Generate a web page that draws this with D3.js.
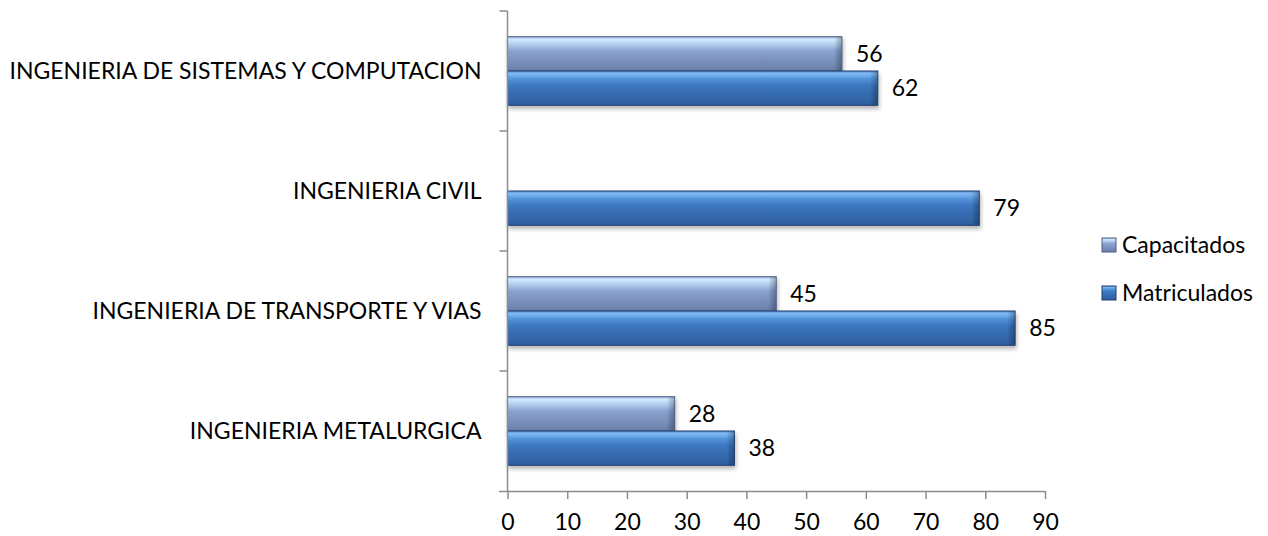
<!DOCTYPE html>
<html>
<head>
<meta charset="utf-8">
<script src="https://cdn.jsdelivr.net/npm/d3@7"></script>
<style>
  body { margin: 0; background: #fff; }
  text { font-family: Lato, "Open Sans", sans-serif; fill: #000; }
  .axis line, .axis path { stroke: #8c8c8c; stroke-width: 1.5px; }
</style>
</head>
<body>
<script>
// data
var categories = ["INGENIERIA DE SISTEMAS Y COMPUTACION", "INGENIERIA CIVIL", "INGENIERIA DE TRANSPORTE Y VIAS", "INGENIERIA METALURGICA"];
var series = ["Capacitados", "Matriculados"];
var capacitados = [56, null, 45, 28];
var matriculados = [62, 79, 85, 38];
var xTicks = [0, 10, 20, 30, 40, 50, 60, 70, 80, 90];

var margin = { top: 11, bottom: 45, left: 507.5, right: 223 };
var width = 1268 - margin.left - margin.right;
var height = 536 - margin.top - margin.bottom;
var fontSize = "23px";

var svg = d3.select("body")
    .append("svg")
    .attr("width", 1268)
    .attr("height", 536);

var defs = svg.append("defs");

// bar gradients (rough take on the excel bevel look)
function vgrad(id, stops) {
    var g = defs.append("linearGradient")
        .attr("id", id)
        .attr("x1", 0).attr("y1", 0).attr("x2", 0).attr("y2", 1);
    stops.forEach(function (s) {
        g.append("stop").attr("offset", s[0]).attr("stop-color", s[1]);
    });
}
vgrad("g-cap", [["0%", "#9db8e0"], ["8%", "#d3ebfd"], ["22%", "#b3cfee"], ["42%", "#89a2cf"], ["100%", "#6a7ea8"]]);
vgrad("g-mat", [["0%", "#5a92d6"], ["8%", "#80bbf3"], ["22%", "#5596dc"], ["42%", "#3d76c0"], ["100%", "#2d5e9c"]]);

var endGrad = defs.append("linearGradient")
    .attr("id", "g-end")
    .attr("x1", 0).attr("y1", 0).attr("x2", 1).attr("y2", 0);
endGrad.append("stop").attr("offset", "0%").attr("stop-color", "#000").attr("stop-opacity", 0);
endGrad.append("stop").attr("offset", "100%").attr("stop-color", "#000").attr("stop-opacity", 0.28);

var shadow = defs.append("filter").attr("id", "shadow")
    .attr("x", "-5%").attr("y", "-20%").attr("width", "110%").attr("height", "160%");
shadow.append("feDropShadow")
    .attr("dx", 1).attr("dy", 3).attr("stdDeviation", 2)
    .attr("flood-color", "#000").attr("flood-opacity", 0.3);

var colors = { "Capacitados": "url(#g-cap)", "Matriculados": "url(#g-mat)" };
var borders = { "Capacitados": "#4a5c82", "Matriculados": "#213f6e" };

var chart = svg.append("g")
    .attr("transform", "translate(" + margin.left + "," + margin.top + ")");

var xScale = d3.scaleLinear()
    .domain([0, 90])
    .range([0, width]);

var yScale = d3.scaleBand()
    .domain(categories)
    .range([0, height]);

var ySub = d3.scaleBand()
    .domain(series)
    .range([0, yScale.bandwidth()])
    .paddingOuter(0.75);

var rows = [];
categories.forEach(function (c, i) {
    rows.push({ cat: c, key: "Capacitados", value: capacitados[i] });
    rows.push({ cat: c, key: "Matriculados", value: matriculados[i] });
});
rows = rows.filter(function (d) { return d.value != null; });

// bars
var bars = chart.selectAll("g.bar")
    .data(rows)
    .enter()
    .append("g")
    .attr("class", "bar")
    .attr("transform", function (d) { return "translate(0," + (yScale(d.cat) + ySub(d.key)) + ")"; });

bars.append("rect")
    .attr("x", 0)
    .attr("width", function (d) { return xScale(d.value); })
    .attr("height", ySub.bandwidth())
    .attr("fill", function (d) { return colors[d.key]; })
    .attr("stroke", function (d) { return borders[d.key]; })
    .attr("stroke-width", 1)
    .attr("filter", "url(#shadow)");

bars.append("rect")
    .attr("x", function (d) { return xScale(d.value) - 8; })
    .attr("y", 0.5)
    .attr("width", 7.5)
    .attr("height", ySub.bandwidth() - 1)
    .attr("fill", "url(#g-end)");

bars.append("text")
    .attr("x", function (d) { return xScale(d.value) + 14; })
    .attr("y", ySub.bandwidth() / 2)
    .attr("dy", "0.36em")
    .style("font-size", fontSize)
    .text(function (d) { return d.value; });

// x axis
var xAxis = chart.append("g")
    .attr("class", "axis")
    .attr("transform", "translate(0," + height + ")")
    .call(d3.axisBottom(xScale).tickValues(xTicks).tickSize(8).tickSizeOuter(0).tickPadding(15));
xAxis.selectAll("text").style("font-size", fontSize).attr("fill", "#000");
xAxis.select(".domain").attr("d", "M-8.5,0.5H" + width);

// y axis: line plus ticks between categories
var yAxis = chart.append("g").attr("class", "axis");
yAxis.append("line")
    .attr("x1", 0).attr("x2", 0)
    .attr("y1", 0).attr("y2", height);
var bounds = categories.map(function (c) { return yScale(c); });
yAxis.selectAll("line.tick")
    .data(bounds)
    .enter()
    .append("line")
    .attr("class", "tick")
    .attr("x1", -8).attr("x2", 0)
    .attr("y1", function (d) { return d; })
    .attr("y2", function (d) { return d; });

chart.selectAll("text.cat")
    .data(categories)
    .enter()
    .append("text")
    .attr("class", "cat")
    .attr("x", -26)
    .attr("y", function (d) { return yScale(d) + yScale.bandwidth() / 2; })
    .attr("dy", "0.36em")
    .attr("text-anchor", "end")
    .style("font-size", fontSize)
    .text(function (d) { return d; });

// legend
var legend = svg.append("g")
    .attr("transform", "translate(1102,238)");
var li = legend.selectAll("g")
    .data(series)
    .enter()
    .append("g")
    .attr("transform", function (d, i) { return "translate(0," + (i * 48) + ")"; });
li.append("rect")
    .attr("width", 14).attr("height", 14)
    .attr("fill", function (d) { return colors[d]; })
    .attr("stroke", function (d) { return borders[d]; })
    .attr("stroke-width", 1);
li.append("text")
    .attr("x", 20)
    .attr("y", 7)
    .attr("dy", "0.36em")
    .style("font-size", fontSize)
    .text(function (d) { return d; });
</script>
</body>
</html>
